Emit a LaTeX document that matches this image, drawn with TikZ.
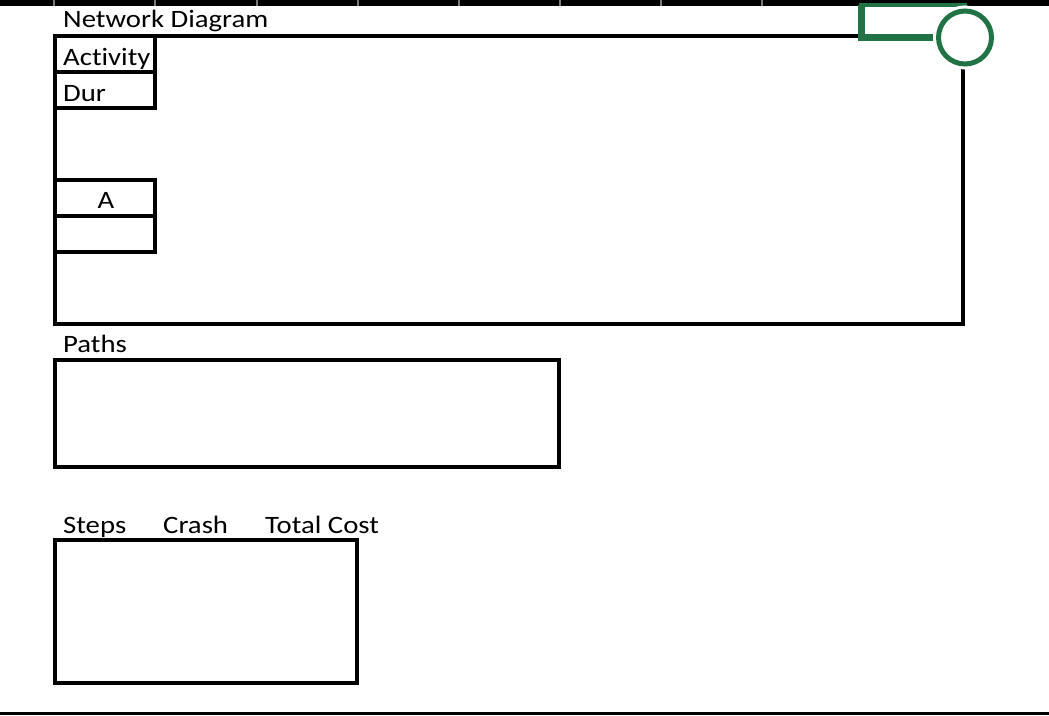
\documentclass[tikz,border=0pt]{standalone}
\usepackage{fontspec}
\setmainfont[FakeStretch=1.15,Ligatures=NoCommon]{Carlito}
\definecolor{xlgreen}{RGB}{33,115,70}
\definecolor{gridgray}{RGB}{120,120,120}
\definecolor{baseline}{RGB}{70,70,70}
\begin{document}
\begin{tikzpicture}[x=1pt,y=-1pt,
  frame/.style={draw=black,line width=3.1pt},
  lbl/.style={anchor=base west,inner sep=0pt,font=\fontsize{25}{30}\selectfont},
  clbl/.style={anchor=base,inner sep=0pt,font=\fontsize{25}{30}\selectfont}]
\useasboundingbox[fill=white] (0,0) rectangle (1049,715);
% top bar with column separators
\fill[black] (0,0) rectangle (1049,6);
\foreach \gx in {54,155,257,358,459,560,661,762}
  \draw[gridgray,line width=1.4pt] (\gx,0) -- (\gx,6);
% title
\node[lbl] (title) at (63,27) {Network Diagram};
% main frame (top edge runs up to the selection handle)
\draw[frame,line cap=rect] (858,36) -- (55,36) -- (55,324) -- (963,324) -- (963,60);
% activity legend cells
\draw[frame] (55,36) rectangle (155,72);
\draw[frame] (55,72) rectangle (155,108);
\node[lbl] (act) at (63,65) {Activity};
\node[lbl] (dur) at (63,101) {Dur};
% activity A
\draw[frame] (55,180) rectangle (155,216);
\draw[frame] (55,216) rectangle (155,252);
\node[clbl] (a) at (106,208) {A};
% paths
\node[lbl] (paths) at (63,352) {Paths};
\draw[frame] (55,360) rectangle (559,467);
% steps
\node[lbl] (steps) at (63,533) {Steps};
\node[lbl] (crash) at (163,533) {Crash};
\node[lbl] (tc) at (265,533) {Total Cost};
\draw[frame] (55,540) rectangle (357,683);
% bottom line
\draw[baseline,line width=2.5pt] (0,713.5) -- (1049,713.5);
% green selection handle
\draw[xlgreen,line width=6.5pt] (933,37.5) -- (861.5,37.5) -- (861.5,5);
\draw[xlgreen,line width=4pt] (858.5,5) -- (967,5);
\draw[white,fill=white,line width=11pt] (965,37.5) circle (26.5);
\draw[xlgreen,line width=5pt] (965,37.5) circle (26.5);
\end{tikzpicture}
\end{document}
